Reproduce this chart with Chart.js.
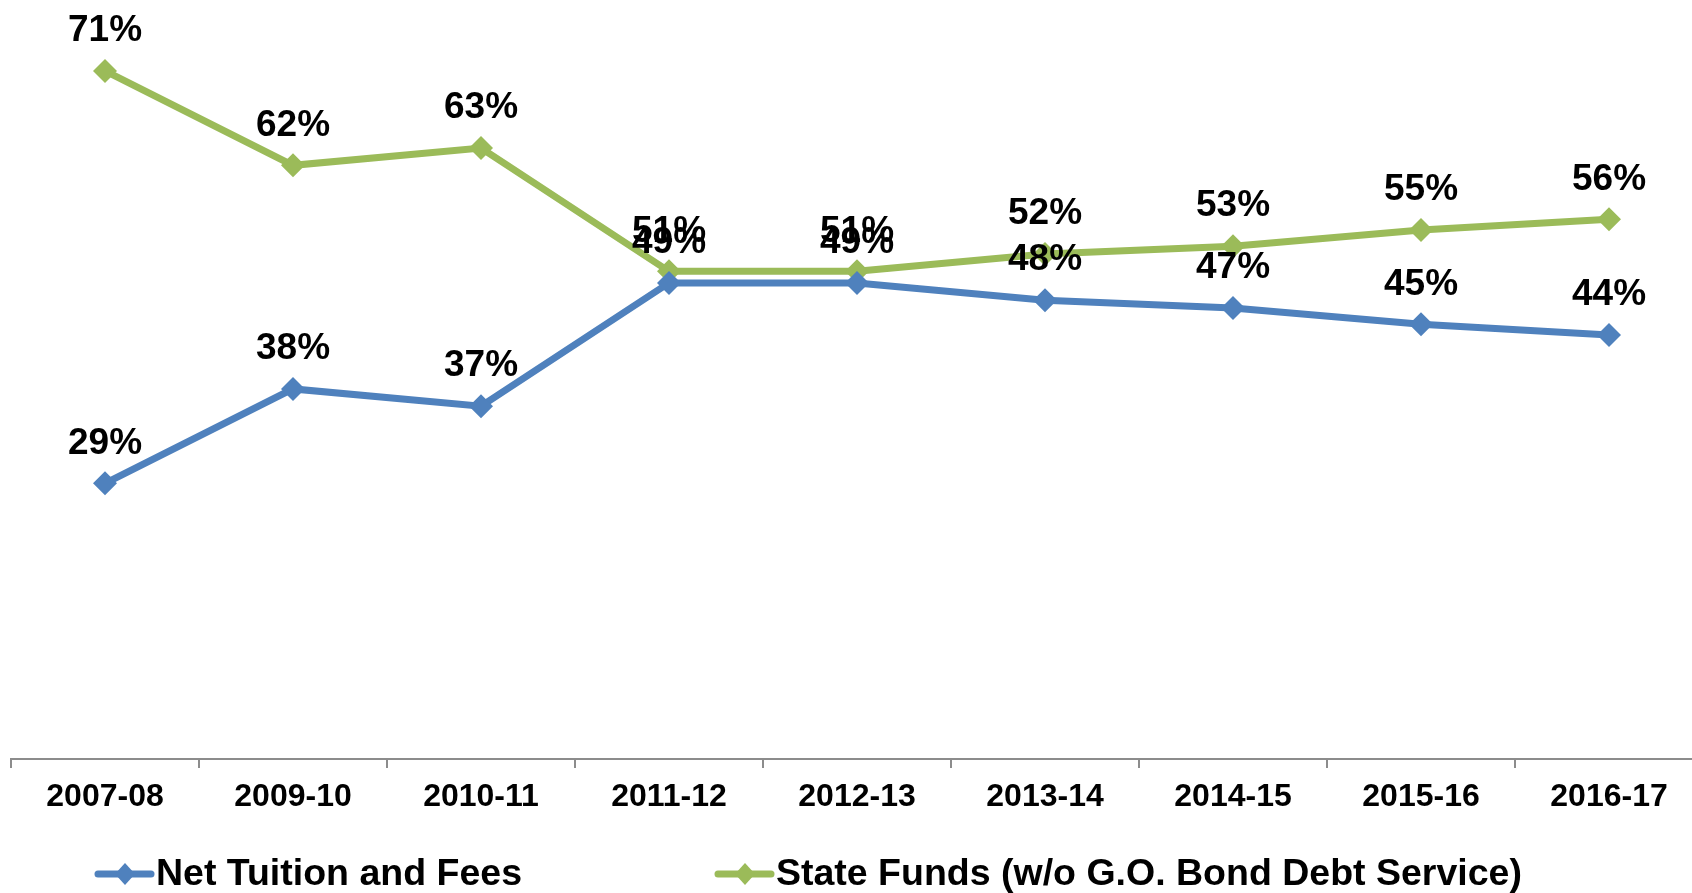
<!DOCTYPE html>
<html>
<head>
<meta charset="utf-8">
<title>Net Tuition vs State Funds</title>
<script src="https://cdn.jsdelivr.net/npm/chart.js@4.4.1/dist/chart.umd.min.js"></script>
<style>
	html, body { margin: 0; padding: 0; background: #fff; width: 1692px; height: 893px; overflow: hidden; }
	.myChart { position: absolute; left: 0; top: -12px; }
</style>
</head>
<body>
<canvas class="myChart" width="1703" height="907"></canvas>
<script>
	// data (percent share per year)
	const years = ["2007-08", "2009-10", "2010-11", "2011-12", "2012-13", "2013-14", "2014-15", "2015-16", "2016-17"];
	const tuition = [28.6, 38.4, 36.6, 49.4, 49.4, 47.6, 46.8, 45.1, 44.0];
	const stateFunds = [71.4, 61.6, 63.4, 50.6, 50.6, 52.4, 53.2, 54.9, 56.0];
	const seriesNames = ["Net Tuition and Fees", "State Funds (w/o G.O. Bond Debt Service)"];
	const yMin = 0;
	const yMax = 80;

	const blue = '#4F81BD';
	const green = '#9BBB59';
	const fontFamily = '"Liberation Sans", Arial, sans-serif';

	// value labels above every point
	const pointLabels = {
		id: 'pointLabels',
		afterDatasetsDraw(chart) {
			const ctx = chart.ctx;
			ctx.save();
			ctx.font = 'bold 37px ' + fontFamily;
			ctx.fillStyle = '#000';
			ctx.textAlign = 'center';
			ctx.textBaseline = 'middle';
			chart.data.datasets.forEach((ds, i) => {
				chart.getDatasetMeta(i).data.forEach((pt, j) => {
					ctx.fillText(Math.round(ds.data[j]) + '%', pt.x, pt.y - 40);
				});
			});
			ctx.restore();
		}
	};

	// excel style legend: line + diamond, then the name
	const lineLegend = {
		id: 'lineLegend',
		afterDraw(chart) {
			const ctx = chart.ctx;
			const y = 886;
			const starts = [95, 715];
			ctx.save();
			chart.data.datasets.forEach((ds, i) => {
				const x = starts[i];
				ctx.strokeStyle = ds.borderColor;
				ctx.lineWidth = 7;
				ctx.lineCap = 'round';
				ctx.beginPath();
				ctx.moveTo(x + 3, y);
				ctx.lineTo(x + 56, y);
				ctx.stroke();
				ctx.fillStyle = ds.borderColor;
				ctx.beginPath();
				ctx.moveTo(x + 30, y - 11);
				ctx.lineTo(x + 40, y);
				ctx.lineTo(x + 30, y + 11);
				ctx.lineTo(x + 20, y);
				ctx.closePath();
				ctx.fill();
				ctx.fillStyle = '#000';
				ctx.font = 'bold 37.5px ' + fontFamily;
				ctx.textAlign = 'left';
				ctx.textBaseline = 'middle';
				ctx.fillText(ds.label, x + 61, y + 1);
			});
			ctx.restore();
		}
	};

	const ctx = document.getElementsByClassName('myChart')[0].getContext('2d');
	const myChart = new Chart(ctx, {
		type: 'line',
		data: {
			labels: years,
			datasets: [{
				label: seriesNames[0],
				data: tuition,
				borderColor: blue,
				backgroundColor: blue,
				borderWidth: 7,
				pointStyle: 'rectRot',
				pointRadius: 12,
				pointBorderWidth: 0,
				pointBackgroundColor: blue,
				tension: 0,
				clip: false
			}, {
				label: seriesNames[1],
				data: stateFunds,
				borderColor: green,
				backgroundColor: green,
				borderWidth: 7,
				pointStyle: 'rectRot',
				pointRadius: 12,
				pointBorderWidth: 0,
				pointBackgroundColor: green,
				tension: 0,
				clip: false
			}]
		},
		options: {
			responsive: false, // fixed canvas size
			animation: false,
			layout: {
				autoPadding: false, // no extra room for the point markers
				padding: { left: 11, right: 0, top: 0, bottom: 0 }
			},
			plugins: {
				legend: { display: false },
				tooltip: { enabled: false }
			},
			scales: {
				x: {
					offset: true,
					afterFit(scale) { scale.height = 136; },
					border: { display: true, color: '#8C8C8C', width: 2 },
					grid: {
						offset: true,
						drawOnChartArea: false,
						drawTicks: true,
						tickLength: 9,
						color: '#8C8C8C',
						lineWidth: 2
					},
					ticks: {
						color: '#000',
						padding: 10,
						maxRotation: 0,
						font: { family: fontFamily, size: 32, weight: 'bold' }
					}
				},
				y: {
					display: false,
					min: yMin,
					max: yMax
				}
			}
		},
		plugins: [pointLabels, lineLegend]
	});
</script>
</body>
</html>
